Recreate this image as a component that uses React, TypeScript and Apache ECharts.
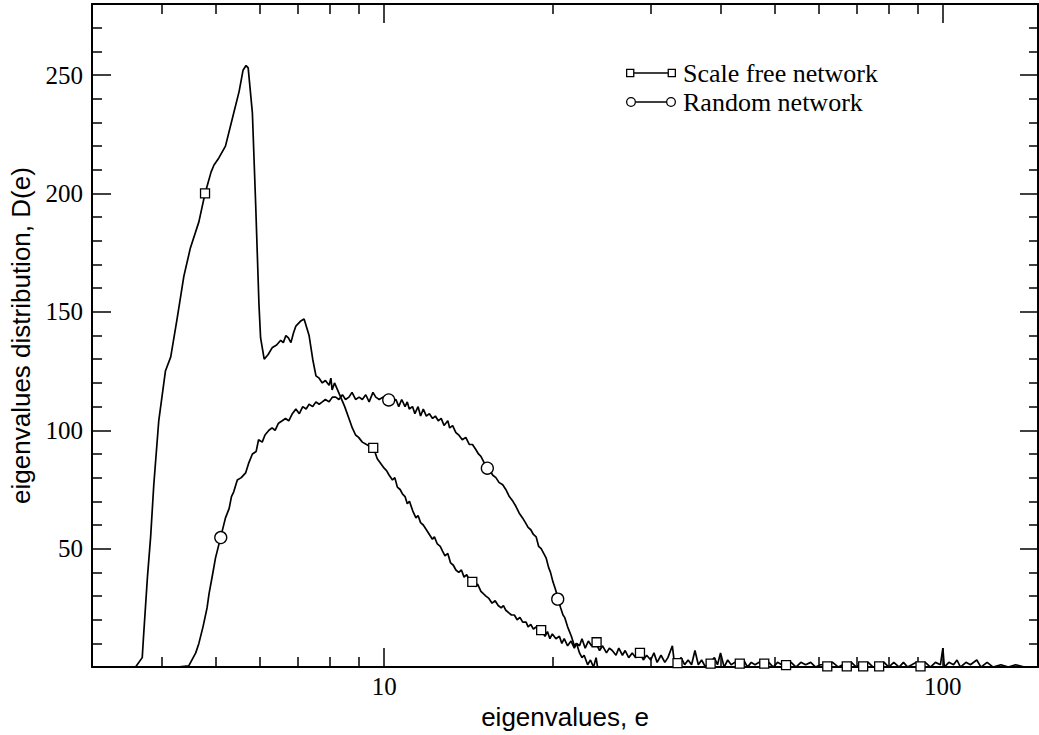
import React, { useEffect, useRef } from "react";
import * as echarts from "echarts";

// ---------- data ----------
const SF_NAME = "Scale free network";
const RN_NAME = "Random network";

const scaleFree: [number, number][] = [
  [3.59, 0], [3.69, 4], [3.71, 13], [3.77, 38], [3.82, 55], [3.87, 77], [3.95, 104], [4.06, 125],
  [4.15, 131], [4.26, 147], [4.38, 165], [4.5, 177], [4.66, 188], [4.78, 200], [4.9, 209], [4.96, 212],
  [5.06, 215], [5.2, 220], [5.38, 234], [5.5, 243], [5.59, 252], [5.66, 254], [5.71, 253], [5.81, 234],
  [5.89, 195], [5.97, 153], [6.01, 139], [6.1, 130], [6.2, 132], [6.31, 135], [6.42, 136], [6.53, 138],
  [6.6, 137], [6.67, 140], [6.74, 139], [6.81, 137], [6.88, 141], [6.95, 144], [7.08, 146], [7.19, 147],
  [7.34, 140], [7.45, 130], [7.55, 123], [7.65, 122], [7.75, 120], [7.85, 121], [7.97, 119], [8.03, 122],
  [8.07, 117], [8.15, 120], [8.22, 118], [8.36, 114], [8.5, 110], [8.65, 105], [8.77, 101], [8.89, 98],
  [9.0, 97], [9.14, 95], [9.3, 94], [9.45, 93], [9.59, 92], [9.72, 88], [9.86, 86], [10.0, 84],
  [10.1, 83], [10.21, 81], [10.35, 79], [10.45, 80], [10.56, 76], [10.68, 75], [10.79, 73], [10.9, 72],
  [11.0, 69], [11.1, 70], [11.25, 66], [11.4, 63], [11.5, 64], [11.62, 61], [11.75, 60], [11.9, 58],
  [12.05, 56], [12.2, 54], [12.3, 55], [12.45, 52], [12.6, 51], [12.72, 49], [12.85, 47], [13.0, 48],
  [13.15, 44], [13.3, 43], [13.44, 41], [13.6, 40], [13.75, 41], [13.9, 38], [14.05, 39], [14.2, 37],
  [14.39, 36], [14.55, 34], [14.7, 35], [14.9, 32], [15.05, 31], [15.21, 30], [15.4, 29], [15.6, 27],
  [15.8, 28], [16.0, 26], [16.2, 25], [16.35, 26], [16.51, 24], [16.7, 23], [16.9, 22], [17.1, 22],
  [17.3, 20], [17.5, 21], [17.7, 19], [17.95, 19], [18.1, 17], [18.3, 18], [18.5, 16], [18.7, 17],
  [18.9, 15], [19.22, 15], [19.4, 13], [19.6, 15], [19.8, 12], [20.0, 14], [20.3, 12], [20.59, 13],
  [20.8, 10], [21.0, 12], [21.3, 9], [21.6, 11], [21.9, 8], [22.1, 10], [22.37, 9], [22.6, 12],
  [22.9, 8], [23.2, 11], [23.5, 9], [23.95, 10], [24.3, 7], [24.6, 9], [25.0, 6], [25.3, 8],
  [25.6, 7], [26.0, 5], [26.3, 8], [26.7, 5], [27.0, 7], [27.4, 4], [27.8, 6], [28.2, 4],
  [28.7, 6], [29.1, 3], [29.5, 5], [30.0, 3], [30.4, 6], [30.8, 2], [31.3, 5], [31.8, 2],
  [32.2, 4], [32.8, 9], [33.1, 1], [33.5, 2], [34.0, 4], [34.5, 1], [35.0, 3], [35.5, 1],
  [36.0, 7], [36.5, 1], [37.0, 3], [37.6, 0], [38.0, 2], [38.4, 2], [39.0, 4], [39.5, 1],
  [40.0, 6], [40.6, 0], [41.2, 3], [41.8, 1], [42.4, 2], [43.3, 1], [44.0, 3], [44.7, 0],
  [45.4, 2], [46.1, 1], [46.9, 2], [47.9, 1], [48.8, 2], [49.7, 0], [50.6, 2], [51.5, 1],
  [52.4, 1], [53.5, 2], [54.6, 0], [55.7, 2], [56.8, 1], [58.0, 2], [59.2, 0], [60.4, 1],
  [62.1, 1], [63.5, 2], [65.0, 0], [66.2, 1], [67.3, 1], [68.6, 2], [70.0, 0], [71.0, 1],
  [72.0, 1], [73.5, 2], [75.0, 0], [76.9, 1], [78.5, 2], [80.0, 0], [81.7, 2], [83.5, 0],
  [85.0, 2], [86.5, 0], [88.0, 1], [89.5, 2], [91.2, 1], [93.0, 2], [95.0, 0], [97.0, 2],
  [99.0, 1], [100.0, 8], [100.6, 0], [102.5, 2], [104.5, 1], [106.0, 3], [107.5, 0], [110.0, 2],
  [112.0, 1], [115.0, 3], [117.0, 0], [120.0, 2], [123.0, 0], [127.0, 1], [131.0, 0], [135.0, 1],
  [140.0, 0], [148.0, 0],
];

const scaleFreeMarkers: [number, number][] = [
  [4.78, 200], [9.56, 92.6], [14.38, 36], [19.1, 15.6], [24.0, 10.5], [28.7, 6], [33.5, 1.7],
  [38.4, 1.5], [43.3, 1.5], [47.9, 1.5], [52.4, 0.8], [62.1, 0.3], [67.3, 0.3], [72.0, 0.3],
  [76.9, 0.3], [91.2, 0.3],
];

const random: [number, number][] = [
  [4.26, 0], [4.47, 0.5], [4.6, 6], [4.66, 10], [4.74, 17], [4.82, 25], [4.86, 31], [4.93, 39],
  [4.99, 46], [5.1, 55], [5.2, 63], [5.28, 67], [5.33, 72], [5.38, 74], [5.46, 79], [5.55, 80],
  [5.65, 82], [5.72, 86], [5.81, 90], [5.9, 91], [5.96, 96], [6.05, 95], [6.12, 98], [6.22, 100],
  [6.3, 101], [6.38, 100], [6.47, 103], [6.57, 104], [6.66, 105], [6.75, 104], [6.85, 107], [6.95, 109],
  [7.05, 107], [7.15, 110], [7.25, 109], [7.34, 111], [7.45, 110], [7.55, 112], [7.65, 111], [7.75, 112],
  [7.85, 113], [7.97, 112], [8.08, 114], [8.19, 114], [8.3, 113], [8.42, 115], [8.53, 113], [8.65, 114],
  [8.76, 116], [8.89, 113], [9.02, 114], [9.14, 113], [9.27, 115], [9.4, 112], [9.55, 116], [9.66, 114],
  [9.8, 113], [9.95, 114], [10.19, 113], [10.35, 112], [10.5, 113], [10.62, 110], [10.75, 113], [10.9, 110],
  [11.0, 112], [11.09, 109], [11.24, 110], [11.35, 107], [11.5, 110], [11.62, 106], [11.75, 109], [11.9, 106],
  [12.05, 107], [12.21, 105], [12.35, 106], [12.5, 104], [12.65, 105], [12.8, 102], [13.0, 104], [13.1, 101],
  [13.26, 102], [13.44, 99], [13.6, 98], [13.8, 96], [14.0, 97], [14.2, 94], [14.39, 94], [14.58, 92],
  [14.75, 90], [14.9, 89], [15.05, 87], [15.26, 84], [15.45, 83], [15.65, 81], [15.85, 80], [16.05, 78],
  [16.3, 77], [16.51, 75], [16.75, 72], [17.0, 70], [17.2, 68], [17.45, 65], [17.69, 63], [17.9, 61],
  [18.1, 59], [18.3, 58], [18.5, 56], [18.71, 55], [18.9, 51], [19.1, 50], [19.3, 48], [19.5, 46],
  [19.7, 42], [19.85, 40], [20.05, 36], [20.25, 33], [20.47, 29], [20.7, 25], [20.9, 22], [21.04, 21],
  [21.3, 17], [21.63, 13], [21.9, 9], [22.1, 10], [22.37, 6], [22.6, 4], [22.8, 5], [23.13, 1],
  [23.4, 3], [23.7, 0], [23.95, 4], [24.1, 0], [24.29, 0],
];

const randomMarkers: [number, number][] = [
  [5.1, 54.7], [10.19, 112.8], [15.3, 84], [20.45, 28.7],
];

const xMajorTicks = [10, 100];
const xMinorTicks = [4, 5, 6, 7, 8, 9, 20, 30, 40, 50, 60, 70, 80, 90];
const xLabels = [10, 100];
const yMajorTicks = [50, 100, 150, 200, 250];
const yMinorTicks = [10, 20, 30, 40, 60, 70, 80, 90, 110, 120, 130, 140, 160, 170, 180, 190, 210, 220, 230, 240, 260, 270];
const yLabels = [50, 100, 150, 200, 250];

const X_MIN = 3;
const X_MAX = 148;
const Y_MIN = 0;
const Y_MAX = 280;

const squareIcon =
  "path://M0,0.8L8.4,0.8L8.4,9.2L0,9.2Z M1.3,2.1L1.3,7.9L7.1,7.9L7.1,2.1Z M8.4,4.35L41.6,4.35L41.6,5.65L8.4,5.65Z M41.6,0.8L50,0.8L50,9.2L41.6,9.2Z M42.9,2.1L42.9,7.9L48.7,7.9L48.7,2.1Z";
const circleIcon =
  "path://M0,5A5,5,0,1,1,10,5A5,5,0,1,1,0,5Z M1.3,5A3.7,3.7,0,1,0,8.7,5A3.7,3.7,0,1,0,1.3,5Z M10,4.35L40,4.35L40,5.65L10,5.65Z M40,5A5,5,0,1,1,50,5A5,5,0,1,1,40,5Z M41.3,5A3.7,3.7,0,1,0,48.7,5A3.7,3.7,0,1,0,41.3,5Z";

const SERIF = "'Liberation Serif', 'Times New Roman', serif";
const SANS = "'Liberation Sans', Arial, Helvetica, sans-serif";

function buildOption() {
  const tickLine = { color: "#000", width: 1.5 };
  const axisLine = { show: true, onZero: false, lineStyle: { color: "#000", width: 2 } };
  const noLine = { show: false, onZero: false };

  const xBase = (position: string) => ({
    type: "log",
    logBase: 10,
    min: X_MIN,
    max: X_MAX,
    position,
    splitLine: { show: false },
    minorTick: { show: false },
    minorSplitLine: { show: false },
  });
  const yBase = (position: string) => ({
    type: "value",
    min: Y_MIN,
    max: Y_MAX,
    position,
    splitLine: { show: false },
  });

  const xAxis = [
    {
      ...xBase("bottom"),
      axisLine,
      axisTick: { show: true, inside: true, length: 19, lineStyle: tickLine, customValues: xMajorTicks },
      axisLabel: {
        show: true,
        customValues: xLabels,
        margin: 7,
        color: "#000",
        fontFamily: SERIF,
        fontSize: 25,
        formatter: (v: number) => String(Math.round(v)),
      },
      name: "eigenvalues, e",
      nameLocation: "middle",
      nameGap: 34,
      nameTextStyle: { color: "#000", fontFamily: SANS, fontSize: 26 },
    },
    {
      ...xBase("bottom"),
      axisLine: noLine,
      axisTick: { show: true, inside: true, length: 10, lineStyle: tickLine, customValues: xMinorTicks },
      axisLabel: { show: false },
    },
    {
      ...xBase("top"),
      axisLine,
      axisTick: { show: true, inside: true, length: 19, lineStyle: tickLine, customValues: xMajorTicks },
      axisLabel: { show: false },
    },
    {
      ...xBase("top"),
      axisLine: noLine,
      axisTick: { show: true, inside: true, length: 10, lineStyle: tickLine, customValues: xMinorTicks },
      axisLabel: { show: false },
    },
  ];

  const yAxis = [
    {
      ...yBase("left"),
      axisLine,
      axisTick: { show: true, inside: true, length: 19, lineStyle: tickLine, customValues: yMajorTicks },
      axisLabel: {
        show: true,
        customValues: yLabels,
        margin: 9,
        color: "#000",
        fontFamily: SERIF,
        fontSize: 25,
      },
      name: "eigenvalues distribution, D(e)",
      nameLocation: "middle",
      nameGap: 58,
      nameTextStyle: { color: "#000", fontFamily: SANS, fontSize: 26 },
    },
    {
      ...yBase("left"),
      axisLine: noLine,
      axisTick: { show: true, inside: true, length: 10, lineStyle: tickLine, customValues: yMinorTicks },
      axisLabel: { show: false },
    },
    {
      ...yBase("right"),
      axisLine,
      axisTick: { show: true, inside: true, length: 18, lineStyle: tickLine, customValues: yMajorTicks },
      axisLabel: { show: false },
    },
    {
      ...yBase("right"),
      axisLine: noLine,
      axisTick: { show: true, inside: true, length: 9, lineStyle: tickLine, customValues: yMinorTicks },
      axisLabel: { show: false },
    },
  ];

  const markerStyle = { color: "#fff", borderColor: "#000", borderWidth: 1.3, opacity: 1 };

  return {
    animation: false,
    backgroundColor: "#fff",
    grid: { left: 92, right: 1, top: 4, bottom: 65, containLabel: false },
    legend: {
      orient: "vertical",
      left: 626,
      top: 60,
      padding: 0,
      itemGap: 3,
      itemWidth: 50,
      itemHeight: 10,
      selectedMode: false,
      itemStyle: { color: "#000", borderWidth: 0, opacity: 1 },
      textStyle: { color: "#000", fontFamily: SERIF, fontSize: 26, padding: [0, 0, 0, 2] },
      data: [
        { name: SF_NAME, icon: squareIcon },
        { name: RN_NAME, icon: circleIcon },
      ],
    },
    xAxis,
    yAxis,
    series: [
      {
        name: SF_NAME,
        type: "line",
        xAxisIndex: 0,
        yAxisIndex: 0,
        data: scaleFree,
        showSymbol: false,
        symbol: "none",
        lineStyle: { color: "#000", width: 1.7 },
        itemStyle: { color: "#000" },
        z: 2,
      },
      {
        name: RN_NAME,
        type: "line",
        xAxisIndex: 0,
        yAxisIndex: 0,
        data: random,
        showSymbol: false,
        symbol: "none",
        lineStyle: { color: "#000", width: 1.7 },
        itemStyle: { color: "#000" },
        z: 2,
      },
      {
        name: SF_NAME,
        type: "scatter",
        xAxisIndex: 0,
        yAxisIndex: 0,
        data: scaleFreeMarkers,
        symbol: "rect",
        symbolSize: 9,
        itemStyle: markerStyle,
        emphasis: { disabled: true },
        z: 3,
      },
      {
        name: RN_NAME,
        type: "scatter",
        xAxisIndex: 0,
        yAxisIndex: 0,
        data: randomMarkers,
        symbol: "circle",
        symbolSize: 12,
        itemStyle: markerStyle,
        emphasis: { disabled: true },
        z: 3,
      },
    ],
  };
}

export default function App() {
  const ref = useRef<HTMLDivElement>(null);
  useEffect(() => {
    if (!ref.current) return;
    const chart = echarts.init(ref.current, undefined, { renderer: "svg" });
    chart.setOption(buildOption() as any);
    return () => chart.dispose();
  }, []);
  return (
    <div
      ref={ref}
      style={{ position: "absolute", left: 0, top: 0, width: 1039, height: 735, background: "#fff" }}
    />
  );
}
